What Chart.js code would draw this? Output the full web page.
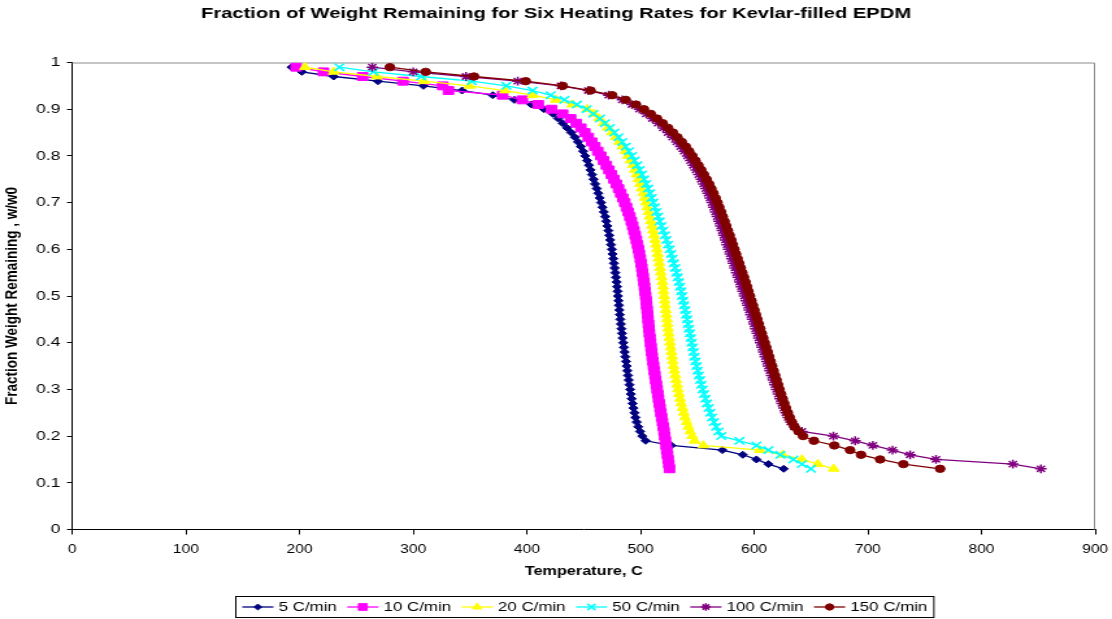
<!DOCTYPE html>
<html>
<head>
<meta charset="utf-8">
<title>Fraction of Weight Remaining - Kevlar-filled EPDM</title>
<script src="https://cdn.jsdelivr.net/npm/chart.js@4.4.1/dist/chart.umd.min.js"></script>
<style>
  html, body { margin: 0; padding: 0; background: #fff; overflow: hidden; }
  /* the chart is drawn narrow and widened, like the old Excel export */
  #wrap { width: 856px; height: 619px; transform: scaleX(1.2991); transform-origin: 0 0; }
  canvas { display: block; }
</style>
</head>
<body>
<div id="wrap"><canvas id="tgaChart" width="856" height="619"></canvas></div>
<script>
var FONT = '"Liberation Sans", Arial, Helvetica, sans-serif';

var chartTitle = 'Fraction of Weight Remaining for Six Heating Rates for Kevlar-filled EPDM';

// fraction remaining (w/w0) at which each temperature was logged
var fractions = [
  0.99, 0.98, 0.97, 0.96, 0.95, 0.94, 0.93, 0.92, 0.91, 0.90,
  0.89, 0.88, 0.87, 0.86, 0.85, 0.84, 0.83, 0.82, 0.81, 0.80,
  0.79, 0.78, 0.77, 0.76, 0.75, 0.74, 0.73, 0.72, 0.71, 0.70,
  0.69, 0.68, 0.67, 0.66, 0.65, 0.64, 0.63, 0.62, 0.61, 0.60,
  0.59, 0.58, 0.57, 0.56, 0.55, 0.54, 0.53, 0.52, 0.51, 0.50,
  0.49, 0.48, 0.47, 0.46, 0.45, 0.44, 0.43, 0.42, 0.41, 0.40,
  0.39, 0.38, 0.37, 0.36, 0.35, 0.34, 0.33, 0.32, 0.31, 0.30,
  0.29, 0.28, 0.27, 0.26, 0.25, 0.24, 0.23, 0.22, 0.21, 0.20,
  0.19, 0.18, 0.17, 0.16, 0.15, 0.14, 0.13
];

// temperatures (C) for each heating rate
var temp5 = [
  193, 202, 230, 269, 309, 343, 370, 389, 404, 415,
  423, 427.5, 431.5, 435.3, 439, 442.2, 445, 447.5, 449.5, 451.3,
  453, 454.6, 456, 457.3, 458.7, 460, 461.5, 462.8, 464.1, 465.3,
  466.5, 467.7, 468.9, 469.9, 470.8, 471.7, 472.5, 473.3, 474.0, 474.8,
  475.4, 476.0, 476.6, 477.2, 477.8, 478.4, 479.0, 479.4, 479.8, 480.2,
  480.6, 481.0, 481.4, 481.8, 482.2, 482.7, 483.2, 483.7, 484.2, 484.8,
  485.4, 486.0, 486.6, 487.2, 487.8, 488.4, 489.0, 489.6, 490.3, 490.9,
  491.5, 492.2, 493.0, 493.8, 494.7, 495.6, 496.6, 498.0, 499.6, 501.5,
  504.5, 527, 572, 590, 602, 612.5, 626
];
var temp10 = [
  197, 221, 255.5, 291, 326, 331, 378.7, 396, 410, 421.8,
  431.5, 438.5, 443.5, 447.5, 451, 454, 457, 459.8, 462.4, 465,
  467.5, 469.9, 472.2, 474.4, 476.6, 478.7, 480.7, 482.6, 484.4, 486.1,
  487.7, 489.2, 490.6, 491.9, 493.1, 494.2, 495.3, 496.3, 497.3, 498.2,
  499.0, 499.8, 500.5, 501.2, 501.8, 502.4, 503.0, 503.5, 504.0, 504.5,
  505.0, 505.4, 505.8, 506.2, 506.6, 507.0, 507.4, 507.8, 508.3, 508.8,
  509.3, 509.8, 510.3, 510.9, 511.5, 512.1, 512.7, 513.3, 514.0, 514.6,
  515.2, 515.8, 516.5, 517.2, 517.9, 518.6, 519.3, 520.0, 520.7, 521.3,
  521.9, 522.5, 523.1, 523.7, 524.3, 524.9, 525.5
];
var temp20 = [
  204.7, 230, 268, 309.5, 349.5, 380.7, 405, 425.6, 440, 453,
  459, 463.5, 467.5, 471.2, 474.8, 478.2, 481.2, 484, 486.6, 489,
  491.2, 493.2, 495, 496.6, 498.1, 499.6, 501, 502.4, 503.7, 504.9,
  506, 507.1, 508.1, 509.1, 510.1, 511, 511.9, 512.8, 513.6, 514.4,
  515.1, 515.8, 516.5, 517.2, 517.9, 518.6, 519.3, 519.8, 520.3, 520.8,
  521.3, 521.8, 522.3, 522.8, 523.3, 523.8, 524.3, 524.8, 525.4, 526,
  526.6, 527.2, 527.8, 528.4, 529.0, 529.8, 530.6, 531.4, 532.2, 533.0,
  533.9, 534.8, 535.8, 536.9, 538.0, 539.2, 540.6, 542.1, 543.7, 545.5,
  547.6, 555.3, 605, 625, 642, 656, 670
];
var temp50 = [
  235, 265, 307, 351.5, 382, 405, 421, 433, 444, 452.6,
  458.5, 464.3, 468.8, 473, 477, 480.6, 484, 487, 489.8, 492.4,
  494.8, 497.1, 499.3, 501.3, 503.2, 505, 506.7, 508.3, 509.8, 511.2,
  512.6, 514, 515.4, 516.9, 518.4, 519.9, 521.4, 522.8, 524.2, 525.6,
  526.9, 528.1, 529.3, 530.5, 531.6, 532.7, 533.8, 534.8, 535.7, 536.6,
  537.5, 538.4, 539.3, 540.2, 541.0, 541.8, 542.6, 543.4, 544.2, 545.0,
  545.8, 546.6, 547.5, 548.4, 549.3, 550.3, 551.3, 552.4, 553.5, 554.7,
  555.9, 557.2, 558.5, 559.9, 561.4, 562.9, 564.6, 566.5, 568.6, 571,
  587, 602, 612.5, 623, 634.5, 642, 650
];
var temp100 = [
  264, 300, 346.5, 392, 430, 454, 472, 484, 492.5, 499,
  505, 510.5, 515.5, 520, 524.2, 528.2, 531.9, 535.3, 538.4, 541.3,
  544, 546.5, 548.9, 551.2, 553.4, 555.5, 557.5, 559.4, 561.2, 562.9,
  564.5, 566, 567.5, 569, 570.5, 571.9, 573.3, 574.7, 576.1, 577.5,
  578.9, 580.3, 581.7, 583.1, 584.5, 585.9, 587.3, 588.7, 590.1, 591.5,
  592.9, 594.3, 595.7, 597.1, 598.5, 599.9, 601.3, 602.7, 604.1, 605.5,
  606.9, 608.3, 609.7, 611.1, 612.5, 613.9, 615.3, 616.7, 618.2, 619.7,
  621.2, 622.8, 624.4, 626.1, 627.9, 629.9, 632.2, 635.5, 642, 669.7,
  688.8, 704.4, 721.7, 737.2, 760, 827.6, 852.3
];
var temp150 = [
  279.5, 311, 353.5, 399, 431.5, 456, 475, 487, 496, 503,
  509, 514.5, 519.5, 524.2, 528.5, 532.5, 536.3, 539.8, 542.8, 545.6,
  548.3, 550.9, 553.4, 555.8, 558.1, 560.3, 562.3, 564.2, 566, 567.7,
  569.3, 570.9, 572.4, 573.9, 575.4, 576.9, 578.4, 579.8, 581.2, 582.6,
  584, 585.4, 586.8, 588.2, 589.6, 591, 592.4, 593.7, 595, 596.3,
  597.6, 598.9, 600.2, 601.5, 602.8, 604.1, 605.4, 606.7, 608, 609.3,
  610.6, 611.9, 613.2, 614.5, 615.8, 617.1, 618.4, 619.7, 621, 622.3,
  623.7, 625.1, 626.5, 628, 629.6, 631.3, 633.2, 635.4, 639, 643,
  652.5, 670.5, 684.4, 694, 710.8, 731.3, 763.6
];

var tempTicks = [0, 100, 200, 300, 400, 500, 600, 700, 800, 900];
var fracTicks = [0, 0.1, 0.2, 0.3, 0.4, 0.5, 0.6, 0.7, 0.8, 0.9, 1];

function series(label, temps, color, style, radius, markerWidth, order) {
  return {
    label: label,
    data: temps.map(function (t, i) { return { x: t, y: fractions[i] }; }),
    borderColor: color,
    backgroundColor: color,
    pointBackgroundColor: color,
    pointBorderColor: color,
    pointStyle: style,
    pointRadius: radius,
    pointBorderWidth: markerWidth,
    borderWidth: 1.3,
    tension: 0,
    fill: false,
    order: order
  };
}

// grey frame on top and right of the plot area
var plotFrame = {
  id: 'plotFrame',
  beforeDatasetsDraw: function (chart) {
    var a = chart.chartArea, ctx = chart.ctx;
    ctx.save();
    ctx.strokeStyle = '#8c8c8c';
    ctx.lineWidth = 1;
    ctx.beginPath();
    ctx.moveTo(a.left, a.top + 0.5);
    ctx.lineTo(a.right - 0.5, a.top + 0.5);
    ctx.lineTo(a.right - 0.5, a.bottom);
    ctx.stroke();
    ctx.restore();
  }
};

var topTitle = {
  id: 'topTitle',
  afterDraw: function (chart) {
    var ctx = chart.ctx;
    ctx.save();
    ctx.font = 'bold 15.5px ' + FONT;
    ctx.fillStyle = '#000';
    ctx.textAlign = 'center';
    ctx.textBaseline = 'alphabetic';
    ctx.fillText(chartTitle, chart.width / 2, 17.5);
    ctx.restore();
  }
};

// Excel style legend: line + marker + label, all in one box under the axis
var boxLegend = {
  id: 'boxLegend',
  afterDraw: function (chart) {
    var ctx = chart.ctx;
    var lineLen = 24, gapText = 4, gapItem = 8, pad = 5, boxH = 21;
    ctx.save();
    ctx.font = '13px ' + FONT;
    var items = chart.data.datasets.map(function (ds) {
      return { ds: ds, w: ctx.measureText(ds.label).width };
    });
    var total = items.reduce(function (s, it) { return s + lineLen + gapText + it.w; }, 0) + gapItem * (items.length - 1);
    var boxW = total + pad * 2;
    var cx = (chart.chartArea.left + chart.chartArea.right) / 2;
    var x0 = Math.round(cx - boxW / 2) + 0.5, y0 = 596.5;
    ctx.strokeStyle = '#000';
    ctx.lineWidth = 1;
    ctx.strokeRect(x0, y0, boxW, boxH);
    var x = x0 + pad, ym = y0 + boxH / 2;
    items.forEach(function (it) {
      var ds = it.ds;
      ctx.strokeStyle = ds.borderColor;
      ctx.lineWidth = ds.borderWidth;
      ctx.beginPath();
      ctx.moveTo(x, ym);
      ctx.lineTo(x + lineLen, ym);
      ctx.stroke();
      ctx.fillStyle = ds.pointBackgroundColor;
      ctx.strokeStyle = ds.pointBorderColor;
      ctx.lineWidth = ds.pointBorderWidth;
      Chart.helpers.drawPoint(ctx, {
        pointStyle: ds.pointStyle, rotation: 0,
        radius: ds.pointRadius * 0.85, borderWidth: ds.pointBorderWidth
      }, x + lineLen / 2, ym);
      ctx.fillStyle = '#000';
      ctx.textAlign = 'left';
      ctx.textBaseline = 'middle';
      ctx.fillText(ds.label, x + lineLen + gapText, ym + 0.5);
      x += lineLen + gapText + it.w + gapItem;
    });
    ctx.restore();
  }
};

var ctx = document.getElementById('tgaChart');
var tgaChart = new Chart(ctx, {
  type: 'line',
  data: {
    datasets: [
      series('5 C/min', temp5, '#000080', 'rectRot', 3.5, 1, 6),
      series('10 C/min', temp10, '#ff00ff', 'rect', 5.6, 1, 5),
      series('20 C/min', temp20, '#ffff00', 'triangle', 4.8, 1, 4),
      series('50 C/min', temp50, '#00ffff', 'crossRot', 5.2, 1.6, 3),
      series('100 C/min', temp100, '#800080', 'star', 4.4, 1.5, 2),
      series('150 C/min', temp150, '#800000', 'circle', 3.7, 1, 1)
    ]
  },
  options: {
    responsive: false,
    animation: false,
    devicePixelRatio: 1,
    events: [],
    layout: { padding: { top: 62.5, right: 13, bottom: 39.5, left: 0 } },
    plugins: {
      legend: { display: false },
      title: { display: false },
      tooltip: { enabled: false }
    },
    scales: {
      x: {
        type: 'linear',
        min: 0,
        max: 900,
        afterBuildTicks: function (s) { s.ticks = tempTicks.map(function (v) { return { value: v }; }); },
        afterFit: function (s) { s.height = 50; s.paddingLeft = 0; s.paddingRight = 0; },
        ticks: {
          color: '#000', font: { family: FONT, size: 12 }, padding: 8,
          maxRotation: 0, autoSkip: false,
          callback: function (v) { return String(v); }
        },
        grid: { display: true, drawOnChartArea: false, drawTicks: true, tickLength: 5, color: '#000' },
        border: { display: true, color: '#000', width: 1 },
        title: {
          display: true, text: 'Temperature, C', color: '#000',
          font: { family: FONT, size: 12.5, weight: 'bold' },
          padding: { top: 0, bottom: 0 }
        }
      },
      y: {
        type: 'linear',
        min: 0,
        max: 1,
        afterBuildTicks: function (s) { s.ticks = fracTicks.map(function (v) { return { value: v }; }); },
        afterFit: function (s) { s.width = 55.6; s.paddingTop = 0; s.paddingBottom = 0; },
        ticks: {
          color: '#000', font: { family: FONT, size: 13.5 }, padding: 5,
          callback: function (v) { return String(Math.round(v * 10) / 10); }
        },
        grid: { display: true, drawOnChartArea: false, drawTicks: true, tickLength: 4, color: '#000' },
        border: { display: true, color: '#000', width: 1 },
        title: {
          display: true, text: 'Fraction Weight Remaining , w/w0', color: '#000',
          font: { family: FONT, size: 13.5, weight: 'bold' },
          padding: { top: 1.5, bottom: 0 }
        }
      }
    }
  },
  plugins: [plotFrame, topTitle, boxLegend]
});
</script>
</body>
</html>
